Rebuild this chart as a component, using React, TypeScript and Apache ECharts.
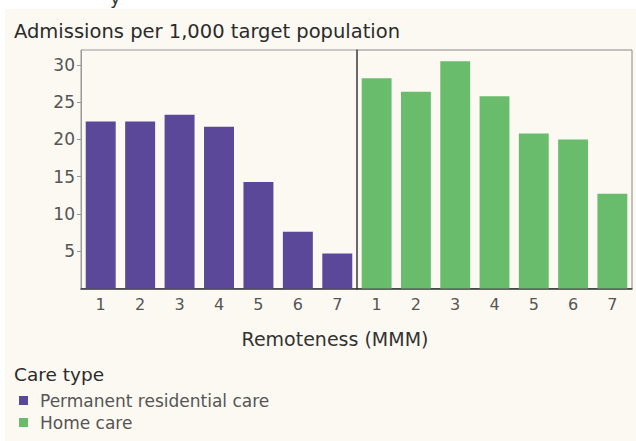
import React, { useEffect, useRef } from "react";
import * as echarts from "echarts";

const categories = ["1", "2", "3", "4", "5", "6", "7"];
const residentialValues = [22.4, 22.4, 23.3, 21.7, 14.3, 7.6, 4.7];
const homeCareValues = [28.2, 26.4, 30.5, 25.8, 20.8, 20.0, 12.7];
const yTicks = [5, 10, 15, 20, 25, 30];
const seriesNames = ["Permanent residential care", "Home care"];

const FONT = "DejaVu Sans";

export default function App() {
  const ref = useRef<HTMLDivElement>(null);
  useEffect(() => {
    if (!ref.current) return;
    const chart = echarts.init(ref.current, undefined, { renderer: "svg" });
    const yBase = {
      type: "value" as const,
      min: 0,
      max: 32,
      splitLine: { show: false },
    };
    const xBase = {
      type: "category" as const,
      data: categories,
      axisTick: { show: false },
      axisLine: { show: true, lineStyle: { color: "#333", width: 1.5 } },
      axisLabel: { color: "#555", fontSize: 16, fontFamily: FONT, margin: 8 },
    };
    chart.setOption({
      animation: false,
      backgroundColor: "#ffffff",
      textStyle: { fontFamily: FONT },
      graphic: [
        { type: "rect", shape: { x: 5, y: 9, width: 640, height: 440 }, style: { fill: "#fcf9f2" }, z: -10 },
        { type: "text", x: 110, y: -12, style: { text: "y", fontSize: 18, fill: "#333", fontFamily: FONT } },
        { type: "text", x: 14, y: 31, style: { text: "Admissions per 1,000 target population", fontSize: 19.5, fill: "#2b2b2b", fontFamily: FONT, verticalAlign: "middle" } },
        { type: "text", x: 335, y: 339, style: { text: "Remoteness (MMM)", fontSize: 19, fill: "#333", fontFamily: FONT, align: "center", verticalAlign: "middle" } },
        { type: "text", x: 14, y: 374, style: { text: "Care type", fontSize: 18.5, fill: "#2b2b2b", fontFamily: FONT, fontWeight: 500, verticalAlign: "middle" } },
      ],
      legend: {
        orient: "vertical",
        left: 14,
        top: 387,
        itemWidth: 9,
        itemHeight: 9,
        itemGap: 5,
        icon: "rect",
        data: seriesNames,
        textStyle: { color: "#555", fontSize: 17, fontFamily: FONT, padding: [0, 0, 0, 7] },
      },
      grid: [
        { left: 81, top: 50, width: 276, height: 238.5, show: true, borderColor: "#999", borderWidth: 1, backgroundColor: "transparent" },
        { left: 357, top: 50, width: 275, height: 238.5, show: true, borderColor: "#888", borderWidth: 1, backgroundColor: "transparent" },
      ],
      xAxis: [
        { ...xBase, gridIndex: 0 },
        { ...xBase, gridIndex: 1 },
      ],
      yAxis: [
        {
          ...yBase,
          gridIndex: 0,
          axisLine: { show: true, lineStyle: { color: "#999" } },
          axisTick: { show: true, length: 4, lineStyle: { color: "#999" }, customValues: yTicks },
          axisLabel: { color: "#555", fontSize: 17, fontFamily: FONT, margin: 6, customValues: yTicks },
        },
        {
          ...yBase,
          gridIndex: 1,
          axisLine: { show: true, lineStyle: { color: "#555", width: 1.5 } },
          axisTick: { show: false },
          axisLabel: { show: false },
        },
      ],
      series: [
        {
          name: seriesNames[0],
          type: "bar",
          xAxisIndex: 0,
          yAxisIndex: 0,
          data: residentialValues,
          barCategoryGap: "24%",
          itemStyle: { color: "#5b4899" },
        },
        {
          name: seriesNames[1],
          type: "bar",
          xAxisIndex: 1,
          yAxisIndex: 1,
          data: homeCareValues,
          barCategoryGap: "24%",
          itemStyle: { color: "#69bc6c" },
        },
      ],
    });
    return () => chart.dispose();
  }, []);
  return (
    <div
      ref={ref}
      style={{ position: "absolute", left: 0, top: 0, width: 636, height: 441 }}
    />
  );
}
